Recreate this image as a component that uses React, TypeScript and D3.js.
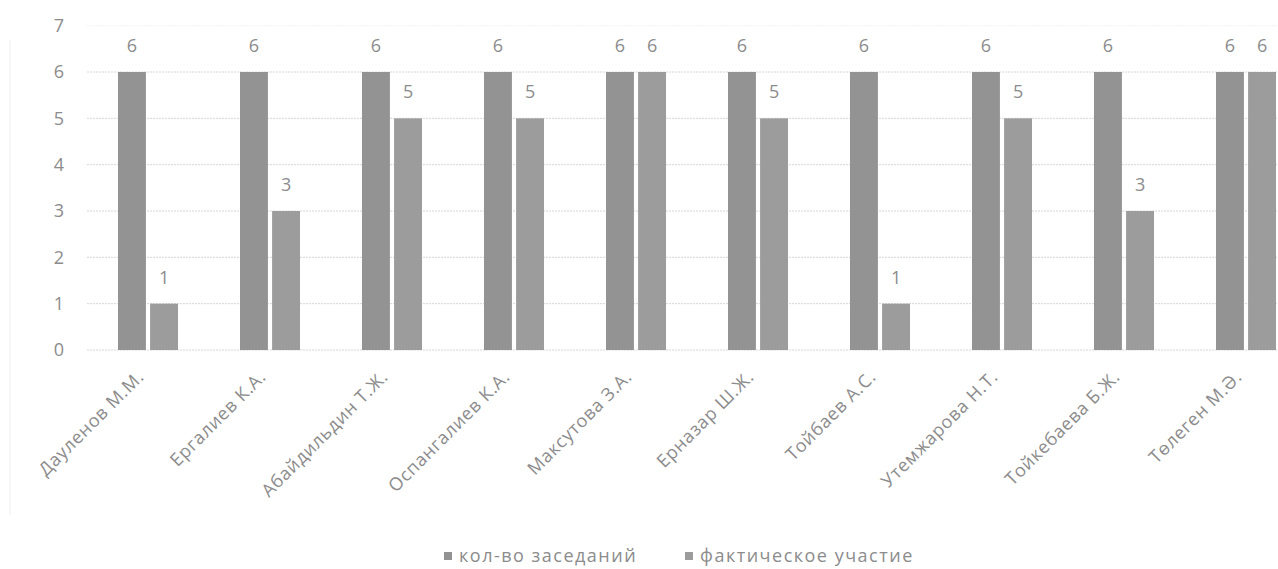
import React from "react";
import * as d3 from "d3";

const categories = [
  "Дауленов М.М.",
  "Ергалиев К.А.",
  "Абайдильдин Т.Ж.",
  "Оспангалиев К.А.",
  "Максутова З.А.",
  "Ерназар Ш.Ж.",
  "Тойбаев А.С.",
  "Утемжарова Н.Т.",
  "Тойкебаева Б.Ж.",
  "Төлеген М.Ә.",
];
const meetings = [6, 6, 6, 6, 6, 6, 6, 6, 6, 6];
const attended = [1, 3, 5, 5, 6, 5, 1, 5, 3, 6];
const seriesNames = ["кол-во заседаний", "фактическое участие"];
const yTicks = [0, 1, 2, 3, 4, 5, 6, 7];

const W = 1278;
const H = 569;
const font = "'Open Sans', 'Noto Sans', sans-serif";
const textColor = "#8c8c8c";
const colors = ["#939393", "#9c9c9c"];

export default function App() {
  const x = d3.scaleBand<string>().domain(categories).range([87, 1307]).paddingInner(0.508).paddingOuter(0.254);
  const inner = d3.scaleBand<number>().domain([0, 1]).range([0, x.bandwidth()]).paddingInner(0.13);
  const y = d3.scaleLinear().domain([0, 6]).range([350, 72]);
  const series = [meetings, attended];

  return (
    <svg width={W} height={H} style={{ position: "absolute", left: 0, top: 0, background: "#fff" }} fontFamily={font}>
      <line x1={10} x2={10} y1={40} y2={515} stroke="#f0f0f0" />
      {yTicks.map((t) => (
        <g key={t}>
          <line x1={87} x2={1307} y1={y(t)} y2={y(t)} stroke={t === 7 ? "#f2f2f2" : "#d6d6d6"} strokeDasharray="2,1" />
          <text x={64} y={y(t)} dy="0.35em" textAnchor="end" fontSize={18} fill={textColor}>
            {t}
          </text>
        </g>
      ))}
      {categories.map((c, i) => (
        <g key={c} transform={`translate(${x(c)},0)`}>
          {series.map((s, k) => (
            <g key={k}>
              <rect x={inner(k)} y={y(s[i])} width={inner.bandwidth()} height={y(0) - y(s[i])} fill={colors[k]} />
              <text
                x={(inner(k) as number) + inner.bandwidth() / 2}
                y={y(s[i]) - 20}
                textAnchor="middle"
                fontSize={18}
                fill={textColor}
              >
                {s[i]}
              </text>
            </g>
          ))}
        </g>
      ))}
      {categories.map((c) => {
        const cx = (x(c) as number) + x.bandwidth() / 2;
        return (
          <text
            key={c}
            transform={`translate(${cx - 3},${378}) rotate(-45)`}
            textAnchor="end"
            fontSize={18}
            letterSpacing={0.7}
            fill={textColor}
          >
            {c}
          </text>
        );
      })}
      {seriesNames.map((n, k) => {
        const lx = [444, 685][k];
        return (
          <g key={n}>
            <rect x={lx} y={552} width={8} height={8} fill={colors[k]} />
            <text x={lx + 15} y={556} dy="0.35em" fontSize={18} letterSpacing={1.5} fill={textColor}>
              {n}
            </text>
          </g>
        );
      })}
    </svg>
  );
}
